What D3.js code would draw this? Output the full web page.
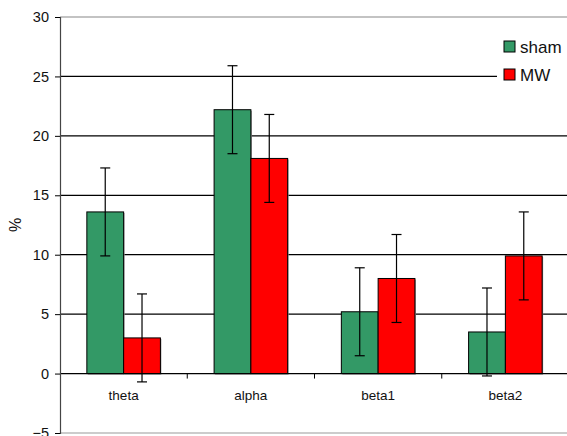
<!DOCTYPE html>
<html>
<head>
<meta charset="utf-8">
<script src="https://cdn.jsdelivr.net/npm/d3@7"></script>
<style>
  body { margin: 0; background: #fff; }
  svg { display: block; font-family: "Liberation Sans", Arial, sans-serif; }
</style>
</head>
<body>
<svg id="graph" width="567" height="436"></svg>
<script>
const categories = ["theta", "alpha", "beta1", "beta2"];
const series = ["sham", "MW"];
const shamValues = [13.6, 22.2, 5.2, 3.5];
const shamErrors = [3.7, 3.7, 3.7, 3.7];
const mwValues = [3.0, 18.1, 8.0, 9.9];
const mwErrors = [3.7, 3.7, 3.7, 3.7];
const yTicks = [-5, 0, 5, 10, 15, 20, 25, 30];

const palette = {sham: "#339966", MW: "#ff0000"};
const margin = {top: 17, left: 60};
const innerWidth = 509;
const innerHeight = 416;

const rows = categories.map((c, i) => ({
  cat: c,
  bars: [
    {s: "sham", v: shamValues[i], e: shamErrors[i]},
    {s: "MW", v: mwValues[i], e: mwErrors[i]}
  ]
}));

const svg = d3.select("#graph");
const g = svg.append("g").attr("transform", `translate(${margin.left},${margin.top})`);

const x0 = d3.scaleBand().domain(categories).range([0, innerWidth]).padding(0);
const x1 = d3.scaleBand().domain(series).range([0, x0.bandwidth()])
  .paddingInner(0).paddingOuter(0.73);
const y = d3.scaleLinear().domain([-5, 30]).range([innerHeight, 0]);

// gridlines
g.append("g")
  .selectAll("line")
  .data(yTicks.filter(t => t > -5 && t < 30 && t !== 0))
  .join("line")
  .attr("x1", 0).attr("x2", innerWidth)
  .attr("y1", d => y(d)).attr("y2", d => y(d))
  .attr("stroke", "#000").attr("stroke-width", 1.2);

// plot border top / bottom
g.append("line").attr("x1", 0).attr("x2", innerWidth).attr("y1", y(30)).attr("y2", y(30))
  .attr("stroke", "#888").attr("stroke-width", 1.2);
g.append("line").attr("x1", 0).attr("x2", innerWidth).attr("y1", y(-5)).attr("y2", y(-5))
  .attr("stroke", "#999").attr("stroke-width", 1.2);

// bars
const groups = g.append("g")
  .selectAll("g")
  .data(rows)
  .join("g")
  .attr("transform", d => `translate(${x0(d.cat)},0)`);

groups.selectAll("rect.shadow")
  .data(d => d.bars)
  .join("rect")
  .attr("class", "shadow")
  .attr("x", d => x1(d.s) + 1)
  .attr("y", d => y(d.v) + 1)
  .attr("width", x1.bandwidth())
  .attr("height", d => y(0) - y(d.v))
  .attr("fill", "#999");

groups.selectAll("rect.bar")
  .data(d => d.bars)
  .join("rect")
  .attr("class", "bar")
  .attr("x", d => x1(d.s))
  .attr("y", d => y(d.v))
  .attr("width", x1.bandwidth())
  .attr("height", d => y(0) - y(d.v))
  .attr("fill", d => palette[d.s])
  .attr("stroke", "#000").attr("stroke-width", 1);

// x axis at zero
const xAxis = g.append("g").attr("transform", `translate(0,${y(0)})`);
xAxis.append("line").attr("x1", 0).attr("x2", innerWidth).attr("stroke", "#000").attr("stroke-width", 1.2);
xAxis.selectAll("line.tick")
  .data(categories.slice(1))
  .join("line")
  .attr("class", "tick")
  .attr("x1", d => x0(d)).attr("x2", d => x0(d))
  .attr("y1", 0).attr("y2", 5)
  .attr("stroke", "#000");
xAxis.selectAll("text")
  .data(categories)
  .join("text")
  .attr("x", d => x0(d) + x0.bandwidth() / 2)
  .attr("y", 26)
  .attr("text-anchor", "middle")
  .attr("font-size", 13.5)
  .attr("fill", "#111")
  .text(d => d);

// error bars
const err = groups.selectAll("g.err")
  .data(d => d.bars)
  .join("g")
  .attr("class", "err")
  .attr("stroke", "#000").attr("stroke-width", 1.2);
err.append("line")
  .attr("x1", d => x1(d.s) + x1.bandwidth() / 2)
  .attr("x2", d => x1(d.s) + x1.bandwidth() / 2)
  .attr("y1", d => y(d.v + d.e))
  .attr("y2", d => y(d.v - d.e));
err.append("line")
  .attr("x1", d => x1(d.s) + x1.bandwidth() / 2 - 5)
  .attr("x2", d => x1(d.s) + x1.bandwidth() / 2 + 5)
  .attr("y1", d => y(d.v + d.e)).attr("y2", d => y(d.v + d.e));
err.append("line")
  .attr("x1", d => x1(d.s) + x1.bandwidth() / 2 - 5)
  .attr("x2", d => x1(d.s) + x1.bandwidth() / 2 + 5)
  .attr("y1", d => y(d.v - d.e)).attr("y2", d => y(d.v - d.e));

// y axis
const yAxis = g.append("g")
  .call(d3.axisLeft(y).tickValues(yTicks).tickSize(5).tickPadding(6).tickFormat(d3.format("d")));
yAxis.select(".domain").attr("stroke", "#444").attr("stroke-width", 1.2);
yAxis.selectAll(".tick line").attr("stroke", "#000");
yAxis.selectAll("text").attr("font-size", 14.5).attr("fill", "#111")
  .attr("font-family", "Liberation Sans, Arial, sans-serif");

svg.append("text")
  .attr("transform", `translate(21,${margin.top + y(12.5)}) rotate(-90)`)
  .attr("text-anchor", "middle")
  .attr("font-size", 16)
  .attr("fill", "#111")
  .text("%");

// legend
const legend = svg.append("g").attr("transform", "translate(497,30)");
legend.append("rect").attr("width", 80).attr("height", 60).attr("fill", "#fff");
legend.selectAll("rect.key")
  .data(series)
  .join("rect")
  .attr("class", "key")
  .attr("x", 7)
  .attr("y", (d, i) => 11 + i * 28)
  .attr("width", 11).attr("height", 11)
  .attr("fill", d => palette[d])
  .attr("stroke", "#000");
legend.selectAll("text")
  .data(series)
  .join("text")
  .attr("x", 23)
  .attr("y", (d, i) => 23 + i * 28)
  .attr("font-size", 17)
  .attr("fill", "#111")
  .text(d => d);
</script>
</body>
</html>
